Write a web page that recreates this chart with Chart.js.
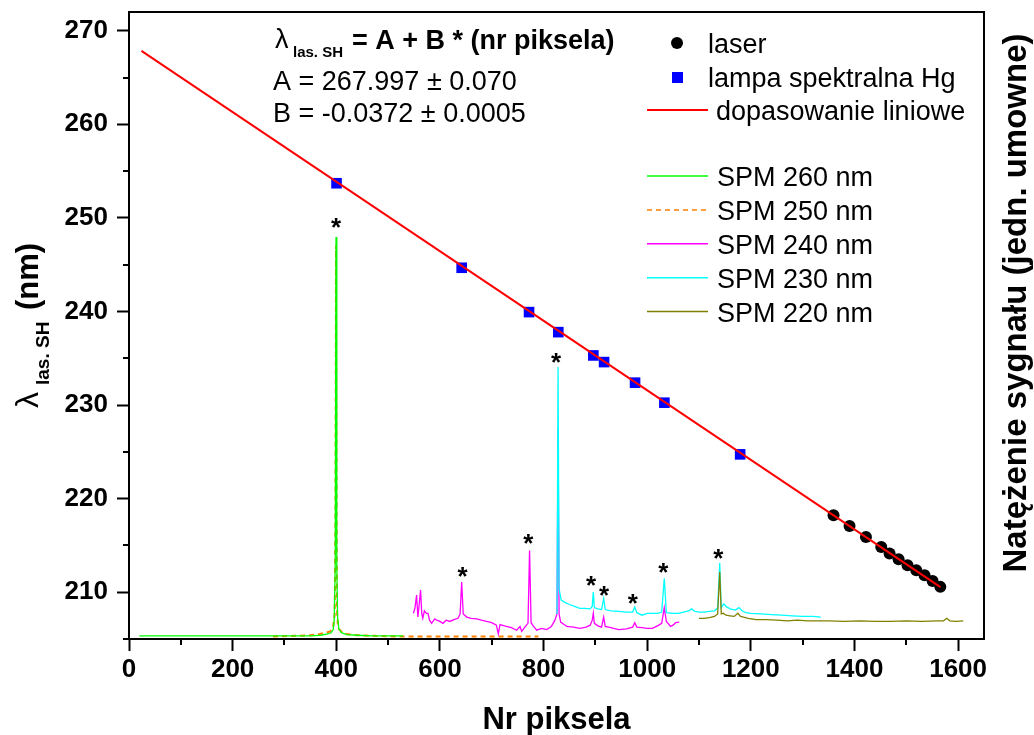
<!DOCTYPE html>
<html>
<head>
<meta charset="utf-8">
<script src="https://cdn.jsdelivr.net/npm/chart.js@4"></script>
<style>
html, body { margin: 0; padding: 0; background: #fff; }
#wrap { width: 1034px; height: 735px; }
</style>
</head>
<body>
<div id="wrap"><canvas id="chart" width="1034" height="735"></canvas></div>
<script>
// Hg lamp lines and laser points: pixel number vs wavelength (nm)
const hgPixel = [400.5, 642.0, 772.0, 828.5, 896.1, 916.8, 976.6, 1033.2, 1179.4];
const hgLambda = [253.70, 244.67, 239.93, 237.79, 235.30, 234.59, 232.39, 230.25, 224.73];
const laserPixel = [1359.6, 1390.5, 1422.2, 1451.7, 1467.8, 1485.2, 1502.5, 1519.3, 1535.3, 1550.8, 1565.7];
const laserLambda = [218.22, 217.08, 215.91, 214.84, 214.13, 213.53, 212.89, 212.35, 211.82, 211.21, 210.57];
// linear fit, ends of the drawn line
const fitPixel = [24, 1566];
const fitLambda = [267.85, 210.55];

// spectra (signal, arbitrary units, right axis)
const spm260X = [20, 100, 200, 300, 350, 370, 384, 390, 394, 396, 398, 399.5, 401, 402.5, 405, 410, 420, 440, 470, 500, 529];
const spm260Y = [0.5, 0.5, 0.5, 0.5, 0.5, 0.6, 0.8, 1.0, 1.5, 3.0, 12, 64.1, 12, 3.5, 1.6, 1.0, 0.7, 0.6, 0.5, 0.5, 0.5];

const spm250X = [278, 320, 350, 368, 380, 388, 394, 397, 398.5, 399.5, 400.5, 401.5, 403, 406, 412, 420, 440, 470, 520, 600, 700, 790];
const spm250Y = [0.4, 0.5, 0.6, 0.8, 1.0, 1.2, 2.0, 4.0, 20, 62.8, 20, 4.3, 2.5, 1.5, 1.0, 0.8, 0.6, 0.5, 0.4, 0.4, 0.4, 0.4];

const spm240X = [549, 552, 555, 557.5, 560, 562.7, 565, 567, 570, 574, 577, 580, 584, 590, 594, 600, 606, 612, 619, 627,
  635, 639, 642, 645, 652, 660, 671, 680, 690, 700, 709, 712.7, 716, 728, 738, 748, 754.6, 757.8, 765, 770,
  773, 776, 780, 787, 796, 806, 815, 822, 826, 828, 830, 833, 845, 858, 870, 882, 890, 894, 896, 898,
  905, 912, 916, 919, 930, 945, 960, 972, 976, 980, 990, 1000, 1010, 1020, 1028, 1033, 1037, 1045, 1050, 1055, 1062];
const spm240Y = [4.1, 5.0, 7.0, 3.5, 5.5, 7.8, 4.0, 3.3, 4.5, 4.1, 4.1, 3.0, 2.5, 3.2, 3.0, 2.8, 2.5, 3.0, 2.8, 3.1,
  3.3, 4.0, 9.1, 4.0, 3.5, 3.3, 3.2, 3.0, 2.8, 2.6, 2.2, 0.8, 2.3, 2.0, 1.8, 1.4, 2.0, 1.2, 2.0, 2.5,
  14.1, 2.6, 2.1, 1.4, 1.7, 1.5, 2.0, 3.0, 4.0, 33.6, 4.0, 2.7, 2.0, 1.9, 1.7, 1.9, 2.2, 3.0, 4.1, 2.5,
  2.1, 1.9, 3.5, 2.0, 1.8, 1.5, 1.6, 1.9, 2.6, 1.9, 1.8, 1.7, 1.7, 2.1, 2.5, 5.0, 2.8, 2.0, 2.2, 2.6, 2.7];

const spm230X = [826, 828, 830, 834, 842, 850, 860, 870, 880, 890, 894, 896, 898, 905, 912, 916, 919, 930, 945, 960,
  972, 976, 980, 990, 1000, 1010, 1020, 1028, 1033, 1037, 1050, 1060, 1070, 1080, 1086, 1092, 1100, 1110, 1120, 1130,
  1136, 1140, 1143, 1148, 1152, 1160, 1170, 1177, 1183, 1190, 1200, 1220, 1240, 1260, 1280, 1300, 1320, 1335];
const spm230Y = [4.0, 43.4, 8.0, 6.2, 5.8, 5.5, 5.2, 4.9, 4.9, 4.8, 5.2, 7.5, 5.0, 4.8, 4.7, 6.5, 4.7, 4.5, 4.4, 4.3,
  4.3, 5.1, 4.2, 3.8, 4.1, 4.1, 4.1, 4.3, 9.7, 4.2, 4.1, 4.1, 4.3, 4.5, 4.8, 4.4, 4.3, 4.3, 4.4, 4.5,
  5.0, 12.1, 5.0, 5.6, 5.2, 4.8, 4.6, 5.0, 4.5, 4.2, 4.1, 4.0, 3.9, 3.8, 3.7, 3.6, 3.6, 3.5];

const spm220X = [1100, 1110, 1120, 1130, 1136, 1140, 1143, 1147, 1152, 1160, 1168, 1175, 1180, 1186, 1195, 1210, 1230, 1250, 1270, 1290,
  1310, 1330, 1350, 1380, 1410, 1440, 1470, 1500, 1530, 1560, 1572, 1578, 1584, 1595, 1610];
const spm220Y = [3.3, 3.3, 3.4, 3.6, 4.0, 10.7, 4.0, 4.1, 3.8, 3.7, 3.6, 4.1, 3.6, 3.5, 3.3, 3.1, 3.1, 3.0, 2.9, 3.0,
  2.9, 2.9, 2.9, 2.8, 2.9, 2.8, 2.8, 2.9, 2.8, 2.9, 2.9, 3.3, 2.9, 2.8, 2.9];

// asterisks above the peaks (pixel, signal)
const starX = [399.7, 643.9, 770.6, 824, 891.7, 916.8, 972.2, 1031.3, 1137.5];
const starY = [66.6, 11.0, 16.2, 45.1, 9.6, 8.0, 6.7, 11.6, 13.8];

const xTicks = [0, 1650, 200];
const yTicks = [205, 272, 10];

const FONT = "'Liberation Sans', Arial, sans-serif";
Chart.defaults.font.family = FONT;
Chart.defaults.color = '#000';

function pts(xs, ys) {
    return xs.map((x, i) => ({ x: x, y: ys[i] }));
}

function spectrum(label, xs, ys, color, dash) {
    return {
        label: label,
        data: pts(xs, ys),
        yAxisID: 'y2',
        showLine: true,
        borderColor: color,
        borderWidth: dash ? 2 : 1.3,
        borderDash: dash || [],
        pointRadius: 0,
        tension: 0
    };
}

const decor = {
    id: 'decor',
    afterDatasetsDraw(chart) {
        const ctx = chart.ctx;
        const xs = chart.scales.x, y2 = chart.scales.y2;
        ctx.save();
        ctx.fillStyle = '#000';
        ctx.font = 'bold 26px ' + FONT;
        ctx.textAlign = 'center';
        ctx.textBaseline = 'alphabetic';
        starX.forEach((x, i) => {
            ctx.fillText('*', xs.getPixelForValue(x), y2.getPixelForValue(starY[i]) + 15);
        });
        ctx.restore();
    },
    afterDraw(chart) {
        const ctx = chart.ctx;
        const ca = chart.chartArea;
        const xs = chart.scales.x, ys = chart.scales.y;
        ctx.save();
        ctx.strokeStyle = '#000';
        ctx.lineWidth = 2;
        // top frame
        ctx.beginPath();
        ctx.moveTo(ca.left - 1, ca.top);
        ctx.lineTo(ca.right + 1, ca.top);
        ctx.stroke();
        // minor ticks
        ctx.beginPath();
        for (let v = 100; v < 1650; v += 200) {
            const px = Math.round(xs.getPixelForValue(v));
            ctx.moveTo(px, ca.bottom);
            ctx.lineTo(px, ca.bottom + 6);
        }
        for (let v = 205; v < 272; v += 10) {
            const py = Math.round(ys.getPixelForValue(v));
            ctx.moveTo(ca.left, py);
            ctx.lineTo(ca.left - 6, py);
        }
        ctx.stroke();

        ctx.fillStyle = '#000';
        ctx.textAlign = 'left';
        ctx.textBaseline = 'alphabetic';

        // x title
        ctx.font = 'bold 31px ' + FONT;
        ctx.textAlign = 'center';
        ctx.fillText('Nr piksela', (ca.left + ca.right) / 2, 729);

        // left title (rotated)
        ctx.save();
        ctx.translate(38, 408);
        ctx.rotate(-Math.PI / 2);
        ctx.textAlign = 'left';
        ctx.font = '32px ' + FONT;
        ctx.fillText('\u03bb', 0, 0);
        ctx.font = 'bold 19px ' + FONT;
        ctx.fillText('las. SH', 23, 11);
        ctx.font = 'bold 31px ' + FONT;
        ctx.fillText('(nm)', 98, 0);
        ctx.restore();

        // right title (rotated)
        ctx.save();
        ctx.translate(1026, 303);
        ctx.rotate(-Math.PI / 2);
        ctx.textAlign = 'center';
        ctx.font = 'bold 33px ' + FONT;
        ctx.fillText('Nat\u0119\u017cenie sygna\u0142u (jedn. umowne)', 0, 0);
        ctx.restore();

        // fit formula
        ctx.textAlign = 'left';
        ctx.font = '27px ' + FONT;
        ctx.fillText('\u03bb', 275, 48);
        ctx.font = 'bold 15px ' + FONT;
        ctx.fillText('las. SH', 293, 57);
        ctx.font = 'bold 27px ' + FONT;
        ctx.fillText('= A + B * (nr piksela)', 352, 49);
        ctx.font = '27px ' + FONT;
        ctx.fillText('A = 267.997 \u00b1 0.070', 273, 90);
        ctx.fillText('B = -0.0372 \u00b1 0.0005', 273, 122);

        // legend
        ctx.font = '27px ' + FONT;
        ctx.fillStyle = '#000';
        ctx.beginPath();
        ctx.arc(677, 43, 6, 0, Math.PI * 2);
        ctx.fill();
        ctx.fillText('laser', 708, 53);
        ctx.fillStyle = '#0000ff';
        ctx.fillRect(672, 72, 11, 11);
        ctx.fillStyle = '#000';
        ctx.fillText('lampa spektralna Hg', 708, 87);
        ctx.strokeStyle = '#ff0000';
        ctx.lineWidth = 2;
        ctx.beginPath();
        ctx.moveTo(647, 110);
        ctx.lineTo(708, 110);
        ctx.stroke();
        ctx.fillText('dopasowanie liniowe', 716, 120);

        const spm = chart.data.datasets.filter(d => d.yAxisID === 'y2');
        const order = ['SPM 260 nm', 'SPM 250 nm', 'SPM 240 nm', 'SPM 230 nm', 'SPM 220 nm'];
        order.forEach((name, i) => {
            const d = spm.find(s => s.label === name);
            const y = 176 + i * 33.9;
            ctx.strokeStyle = d.borderColor;
            ctx.lineWidth = d.borderDash.length ? 1.5 : 1.5;
            ctx.setLineDash(d.borderDash.length ? [5, 4] : []);
            ctx.beginPath();
            ctx.moveTo(647, y);
            ctx.lineTo(708, y);
            ctx.stroke();
            ctx.setLineDash([]);
            ctx.fillStyle = '#000';
            ctx.fillText(name, 717, y + 10);
        });
        ctx.restore();
    }
};

new Chart(document.getElementById('chart'), {
    type: 'scatter',
    data: {
        datasets: [
            {
                label: 'dopasowanie liniowe',
                data: pts(fitPixel, fitLambda),
                showLine: true,
                borderColor: '#ff0000',
                borderWidth: 2,
                pointRadius: 0,
                yAxisID: 'y'
            },
            {
                label: 'laser',
                data: pts(laserPixel, laserLambda),
                pointStyle: 'circle',
                pointRadius: 6,
                backgroundColor: '#000',
                borderWidth: 0,
                yAxisID: 'y'
            },
            {
                label: 'lampa spektralna Hg',
                data: pts(hgPixel, hgLambda),
                pointStyle: 'rect',
                pointRadius: 7.5,
                backgroundColor: '#0000ff',
                borderWidth: 0,
                yAxisID: 'y'
            },
            spectrum('SPM 220 nm', spm220X, spm220Y, '#808000'),
            spectrum('SPM 230 nm', spm230X, spm230Y, '#00ffff'),
            spectrum('SPM 240 nm', spm240X, spm240Y, '#ff00ff'),
            spectrum('SPM 260 nm', spm260X, spm260Y, '#00ff00'),
            spectrum('SPM 250 nm', spm250X, spm250Y, '#ff8000', [5, 4])
        ]
    },
    options: {
        responsive: false,
        devicePixelRatio: 1,
        animation: false,
        layout: { padding: { top: 12, left: 0, right: 0, bottom: 0 } },
        plugins: {
            legend: { display: false },
            tooltip: { enabled: false }
        },
        scales: {
            x: {
                type: 'linear',
                position: 'bottom',
                min: xTicks[0],
                max: xTicks[1],
                ticks: {
                    stepSize: xTicks[2],
                    includeBounds: false,
                    autoSkip: false,
                    maxRotation: 0,
                    padding: 3,
                    font: { size: 26, weight: 'bold' },
                    callback: v => String(v)
                },
                grid: { drawOnChartArea: false, color: '#000', tickLength: 12, tickWidth: 2 },
                border: { color: '#000', width: 2 },
                afterFit: s => { s.height = 96; s.paddingLeft = 0; s.paddingRight = 0; }
            },
            y: {
                type: 'linear',
                position: 'left',
                min: yTicks[0],
                max: yTicks[1],
                ticks: {
                    stepSize: yTicks[2],
                    includeBounds: false,
                    autoSkip: false,
                    padding: 9,
                    font: { size: 26, weight: 'bold' },
                    callback: v => String(v)
                },
                grid: { drawOnChartArea: false, color: '#000', tickLength: 12, tickWidth: 2 },
                border: { color: '#000', width: 2 },
                afterFit: s => { s.width = 129; s.paddingTop = 0; s.paddingBottom = 0; }
            },
            y2: {
                type: 'linear',
                position: 'right',
                min: 0,
                max: 100,
                ticks: { display: false },
                grid: { display: false },
                border: { display: true, color: '#000', width: 2 },
                afterFit: s => { s.width = 50; s.paddingTop = 0; s.paddingBottom = 0; }
            }
        }
    },
    plugins: [decor]
});
</script>
</body>
</html>
